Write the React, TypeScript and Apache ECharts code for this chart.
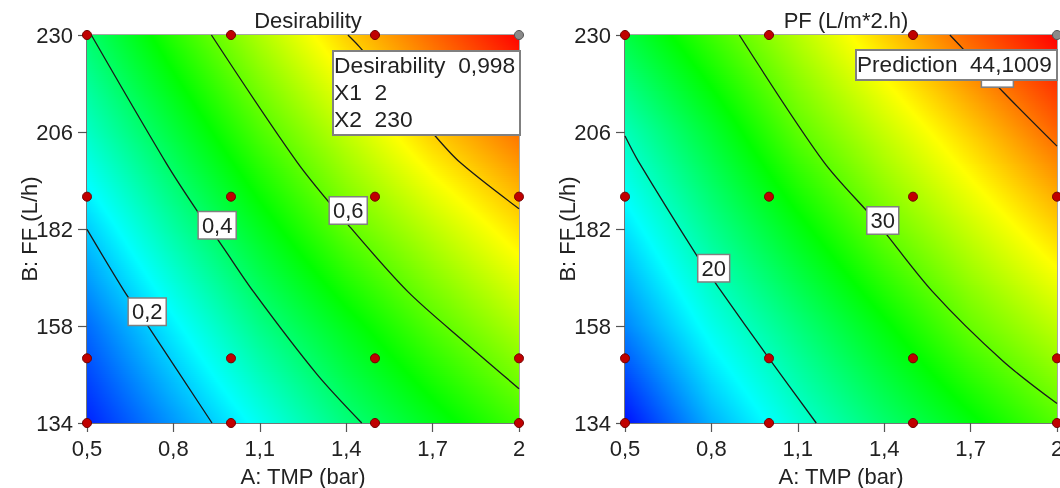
import React, { useEffect, useRef } from 'react';
import * as echarts from 'echarts';

// ---------- data ----------
const xGrid = [0.5, 0.8, 1.1, 1.4, 1.7, 2.0];
const yGrid = [134, 158, 182, 206, 230];
const xTicks = [0.5, 0.8, 1.1, 1.4, 1.7, 2];
const yTicks = [134, 158, 182, 206, 230];

// Desirability surface (rows follow yGrid, columns follow xGrid)
const desirabilityGrid = [
  [0.033, 0.148, 0.264, 0.379, 0.474, 0.564],
  [0.105, 0.238, 0.368, 0.477, 0.58, 0.671],
  [0.2, 0.34, 0.47, 0.592, 0.686, 0.778],
  [0.305, 0.439, 0.574, 0.69, 0.801, 0.888],
  [0.393, 0.537, 0.671, 0.797, 0.898, 0.998],
];
const desirabilityRange = [0, 1];

// PF surface (L/m*2.h)
const pfGrid = [
  [9.5, 15.1, 19.2, 22.8, 26.1, 29.4],
  [13.6, 18.4, 22.3, 26.2, 30.1, 33.1],
  [16.8, 21.6, 25.9, 30.1, 33.5, 36.8],
  [20.1, 24.8, 29.7, 33.4, 37.0, 40.6],
  [24.2, 28.6, 32.8, 36.9, 40.8, 44.1],
];
const pfRange = [9, 44.1];

// contour lines [TMP, FF]
const dContour02 = [[0.5, 181.9], [0.627, 166.9], [0.708, 158.4], [0.934, 134]];
const dContour04 = [[0.515, 230], [0.775, 198.3], [0.887, 186], [0.956, 179.2], [1.078, 166.5], [1.298, 146.1], [1.454, 134]];
const dContour06 = [[0.932, 230], [1.23, 198.5], [1.406, 183.1], [1.614, 166.5], [1.82, 153.5], [2, 142.5]];
const dContour08 = [[1.406, 230], [1.447, 227], [1.702, 205.6], [1.795, 198.5], [2, 187]];
const dContourLabels = [
  { name: '0,2', x: 0.709, y: 161.5 },
  { name: '0,4', x: 0.952, y: 182.9 },
  { name: '0,6', x: 1.407, y: 186.6 },
];

const pfContour20 = [[0.5, 205], [0.546, 198.8], [0.754, 174.9], [0.83, 167], [1.0, 150], [1.164, 134]];
const pfContour30 = [[0.897, 230], [1.19, 198.6], [1.37, 184], [1.568, 166.5], [1.811, 149.4], [2, 138.8]];
const pfContour40 = [[1.628, 230], [1.668, 227], [1.813, 215.9], [2, 202.5]];
const pfContourLabels = [
  { name: '20', x: 0.808, y: 172.3 },
  { name: '30', x: 1.395, y: 184.1 },
  { name: '40', x: 1.793, y: 220.5 },
];

// design points
const designX = [0.5, 1, 1.5, 2];
const designY = [134, 150, 190, 230];
const selectedPoint = [2, 230];

const desirabilityValue = '0,998';
const x1Value = '2';
const x2Value = '230';
const predictionValue = '44,1009';

// ---------- helpers ----------
const FONT = 'Liberation Sans, Arial, sans-serif';
const TXT = '#222';
const cmapStops = [
  [0, 0, 255],
  [0, 255, 255],
  [0, 255, 0],
  [255, 255, 0],
  [255, 0, 0],
];
function cmap(v: number, lo: number, hi: number) {
  let t = (v - lo) / (hi - lo);
  t = Math.max(0, Math.min(1, t));
  const s = t * 4;
  const i = Math.min(3, Math.floor(s));
  const f = s - i;
  const a = cmapStops[i], b = cmapStops[i + 1];
  const c = a.map((av, k) => Math.round(av + (b[k] - av) * f));
  return `rgb(${c[0]},${c[1]},${c[2]})`;
}
function buildStops(vals: number[], lo: number, hi: number) {
  const x0 = xGrid[0], x1 = xGrid[xGrid.length - 1];
  const off = xGrid.map((x) => (x - x0) / (x1 - x0));
  const stops: { offset: number; color: string }[] = [];
  for (let i = 0; i < vals.length; i++) {
    stops.push({ offset: off[i], color: cmap(vals[i], lo, hi) });
    if (i < vals.length - 1) {
      const a = vals[i], b = vals[i + 1];
      const brks = [1, 2, 3]
        .map((k) => lo + (k * (hi - lo)) / 4)
        .filter((bk) => (bk - a) * (bk - b) < 0)
        .map((bk) => ({ offset: off[i] + ((off[i + 1] - off[i]) * (bk - a)) / (b - a), color: cmap(bk, lo, hi) }))
        .sort((p, q) => p.offset - q.offset);
      brks.forEach((s) => stops.push(s));
    }
  }
  return stops;
}

function surfaceSeries(grid: number[][], range: number[], idx: number) {
  return {
    type: 'custom',
    xAxisIndex: idx,
    yAxisIndex: idx,
    silent: true,
    clip: true,
    z: 1,
    data: yGrid.slice(0, -1).map((y, j) => [xGrid[0], y, j]),
    encode: { x: 0, y: 1 },
    renderItem: (params: any, api: any) => {
      const j = api.value(2);
      const pL = api.coord([xGrid[0], yGrid[j]]);
      const pR = api.coord([xGrid[xGrid.length - 1], yGrid[j + 1]]);
      const x0 = pL[0], x1 = pR[0], yb = pL[1], yt = pR[1];
      const n = Math.max(4, Math.ceil((yb - yt) / 2));
      const h = (yb - yt) / n;
      const children: any[] = [];
      for (let k = 0; k < n; k++) {
        const t = (k + 0.5) / n;
        const vals = grid[j].map((v, i) => v * (1 - t) + grid[j + 1][i] * t);
        const top = yb - h * (k + 1);
        children.push({
          type: 'rect',
          shape: { x: x0, y: top - 0.45, width: x1 - x0, height: h + 0.9 },
          style: { fill: new echarts.graphic.LinearGradient(0, 0, 1, 0, buildStops(vals, range[0], range[1])) },
        });
      }
      return { type: 'group', children };
    },
  };
}

function contourSeries(pts: number[][], idx: number) {
  return {
    type: 'line',
    xAxisIndex: idx,
    yAxisIndex: idx,
    data: pts,
    symbol: 'none',
    showSymbol: false,
    smooth: 0.3,
    silent: true,
    z: 3,
    lineStyle: { color: '#1a1a1a', width: 1.3 },
  };
}

function labelSeries(labels: { name: string; x: number; y: number }[], idx: number) {
  return {
    type: 'scatter',
    xAxisIndex: idx,
    yAxisIndex: idx,
    silent: true,
    z: 5,
    symbolSize: 0.1,
    itemStyle: { color: 'rgba(0,0,0,0)', opacity: 1 },
    data: labels.map((l) => ({ name: l.name, value: [l.x, l.y] })),
    label: {
      show: true,
      position: 'inside',
      formatter: '{b}',
      fontSize: 22,
      fontFamily: FONT,
      color: TXT,
      opacity: 1,
      backgroundColor: '#ffffff',
      borderColor: '#808080',
      borderWidth: 1.5,
      padding: [3, 3, 1, 3],
    },
  };
}

function pointSeries(idx: number) {
  const red: number[][] = [];
  designX.forEach((x) =>
    designY.forEach((y) => {
      if (!(x === selectedPoint[0] && y === selectedPoint[1])) red.push([x, y]);
    })
  );
  return [
    {
      type: 'scatter',
      xAxisIndex: idx,
      yAxisIndex: idx,
      data: red,
      symbolSize: 9,
      clip: false,
      silent: true,
      z: 6,
      itemStyle: { color: '#c00000', borderColor: '#700000', borderWidth: 1, opacity: 1 },
    },
    {
      type: 'scatter',
      xAxisIndex: idx,
      yAxisIndex: idx,
      data: [selectedPoint],
      symbolSize: 9,
      clip: false,
      silent: true,
      z: 6,
      itemStyle: { color: '#8a8a8a', borderColor: '#555', borderWidth: 1, opacity: 1 },
    },
  ];
}

const fmt = (v: number) => String(Number(v.toFixed(2))).replace('.', ',');

function xAxis(idx: number) {
  return {
    type: 'value',
    gridIndex: idx,
    min: 0.5,
    max: 2,
    name: 'A: TMP (bar)',
    nameLocation: 'middle',
    nameGap: 42,
    nameMoveOverlap: false,
    nameTextStyle: { fontSize: 22, fontFamily: FONT, color: TXT },
    axisLine: { show: true, lineStyle: { color: '#666', width: 1.5 } },
    axisTick: { show: true, length: 9, customValues: xTicks, lineStyle: { color: '#555', width: 1.2 } },
    axisLabel: { customValues: xTicks, formatter: fmt, fontSize: 22, fontFamily: FONT, color: TXT, margin: 14 },
    splitLine: { show: false },
  };
}
function yAxis(idx: number) {
  return {
    type: 'value',
    gridIndex: idx,
    min: 134,
    max: 230,
    name: 'B: FF (L/h)',
    nameLocation: 'middle',
    nameRotate: 90,
    nameGap: 47,
    nameMoveOverlap: false,
    nameTextStyle: { fontSize: 22, fontFamily: FONT, color: TXT },
    axisLine: { show: true, lineStyle: { color: '#666', width: 1.5 } },
    axisTick: { show: true, length: 9, customValues: yTicks, lineStyle: { color: '#555', width: 1.2 } },
    axisLabel: { customValues: yTicks, formatter: fmt, fontSize: 22, fontFamily: FONT, color: TXT, margin: 14 },
    splitLine: { show: false },
  };
}

const boxRectStyle = { fill: '#fff', stroke: '#808080', lineWidth: 2 };

export default function App() {
  const ref = useRef<HTMLDivElement>(null);
  useEffect(() => {
    if (!ref.current) return;
    const chart = echarts.init(ref.current, undefined, { renderer: 'svg' });
    const option: any = {
      animation: false,
      textStyle: { fontFamily: FONT },
      title: [
        { text: 'Desirability', left: 303, top: 4, textAlign: 'center', textStyle: { fontSize: 22, fontWeight: 'normal', color: TXT, fontFamily: FONT } },
        { text: 'PF (L/m*2.h)', left: 841, top: 4, textAlign: 'center', textStyle: { fontSize: 22, fontWeight: 'normal', color: TXT, fontFamily: FONT } },
      ],
      grid: [
        { left: 87, top: 35, width: 432, height: 388, outerBoundsMode: 'none', containLabel: false, show: true, borderColor: '#8a8a8a', borderWidth: 1.5, backgroundColor: 'transparent' },
        { left: 625, top: 35, width: 432, height: 388, outerBoundsMode: 'none', containLabel: false, show: true, borderColor: '#8a8a8a', borderWidth: 1.5, backgroundColor: 'transparent' },
      ],
      xAxis: [xAxis(0), xAxis(1)],
      yAxis: [yAxis(0), yAxis(1)],
      series: [
        surfaceSeries(desirabilityGrid, desirabilityRange, 0),
        contourSeries(dContour02, 0),
        contourSeries(dContour04, 0),
        contourSeries(dContour06, 0),
        contourSeries(dContour08, 0),
        labelSeries(dContourLabels, 0),
        ...pointSeries(0),
        surfaceSeries(pfGrid, pfRange, 1),
        contourSeries(pfContour20, 1),
        contourSeries(pfContour30, 1),
        contourSeries(pfContour40, 1),
        labelSeries(pfContourLabels, 1),
        ...pointSeries(1),
      ],
      graphic: [
        { type: 'rect', left: 332, top: 50, z: 100, shape: { width: 187, height: 84 }, style: boxRectStyle },
        {
          type: 'text',
          left: 334,
          top: 51,
          z: 101,
          style: { text: `Desirability  ${desirabilityValue}\nX1  ${x1Value}\nX2  ${x2Value}`, fontSize: 22.8, lineHeight: 27, fill: TXT, fontFamily: FONT },
        },
        { type: 'rect', left: 855, top: 49, z: 100, shape: { width: 201, height: 30 }, style: boxRectStyle },
        {
          type: 'text',
          left: 857,
          top: 51,
          z: 101,
          style: { text: `Prediction  ${predictionValue}`, fontSize: 22.6, lineHeight: 26, fill: TXT, fontFamily: FONT },
        },
      ],
    };
    chart.setOption(option);
    return () => chart.dispose();
  }, []);
  return <div ref={ref} style={{ position: 'fixed', left: 0, top: 0, width: 1060, height: 488 }} />;
}
